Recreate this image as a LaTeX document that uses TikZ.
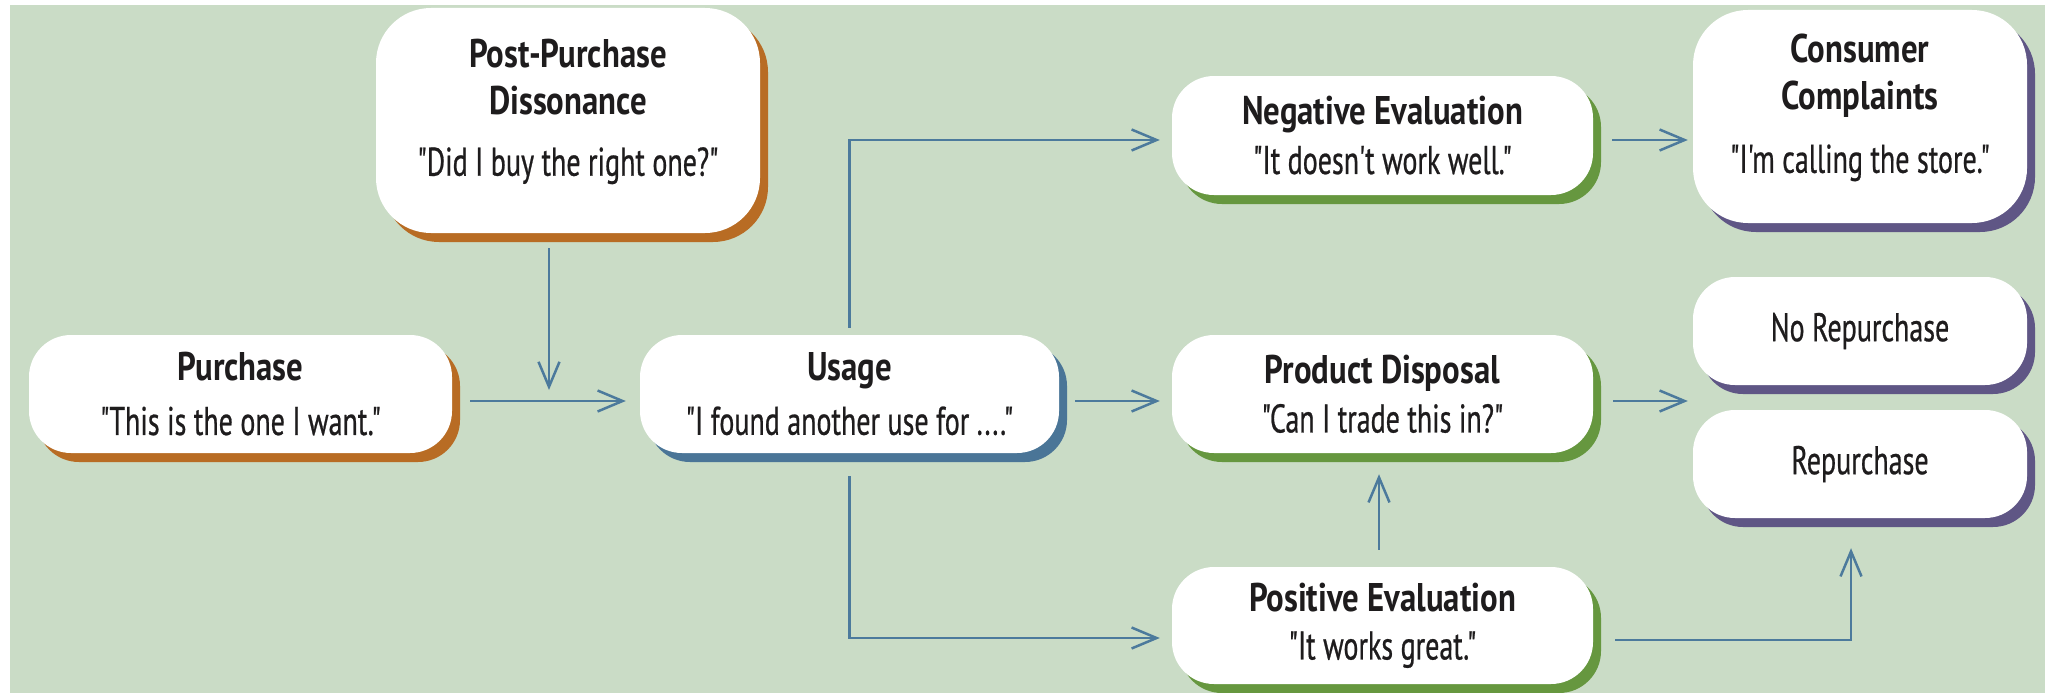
\documentclass[tikz,border=0pt]{standalone}
\usepackage{fontspec}
\setmainfont{PT Sans}[Ligatures=TeXOff, FakeStretch=0.70,
  UprightFeatures={FakeBold=0.6},
  BoldFeatures={FakeStretch=0.82}]
\usetikzlibrary{arrows.meta,shadows,calc}
\definecolor{bgc}{RGB}{202,220,198}
\definecolor{txtc}{RGB}{30,28,29}
\definecolor{arrc}{RGB}{76,122,156}
\definecolor{orangec}{RGB}{184,108,36}
\definecolor{bluec}{RGB}{74,117,151}
\definecolor{greenc}{RGB}{102,151,63}
\definecolor{purplec}{RGB}{95,86,133}
\tikzset{
  box/.style={fill=white, rounded corners=42pt, align=center, text=txtc,
    inner sep=0pt, font=\fontsize{40}{47}\selectfont,
    general shadow={fill=#1, shadow xshift=8pt, shadow yshift=-9pt}},
  tallbox/.style={box=#1, rounded corners=55pt, text depth=26pt},
  arr/.style={draw=arrc, line width=2.5pt,
    -{Straight Barb[length=25pt,width=21pt,line width=2.5pt]}},
}
\begin{document}
\begin{tikzpicture}[x=1pt,y=-1pt]
\useasboundingbox (0,0) rectangle (2055,693);
\fill[bgc] (10,5) rectangle (2045,693);

% stages of the process
\node[tallbox=orangec, minimum width=384pt, minimum height=225pt] (pp) at (568,120.5)
  {\bfseries Post-Purchase\\ \bfseries Dissonance\\[14pt] "Did I buy the right one?"};
\node[box=orangec, minimum width=423pt, minimum height=118pt] (purchase) at (240.5,394)
  {\bfseries Purchase\\[7pt] "This is the one I want."};
\node[box=bluec, minimum width=419pt, minimum height=118pt] (usage) at (849.5,394)
  {\bfseries Usage\\[7pt] "I found another use for ...."};
\node[box=greenc, minimum width=421pt, minimum height=119pt] (neg) at (1382.5,135.5)
  {\bfseries Negative Evaluation\\[2pt] "It doesn't work well."};
\node[box=greenc, minimum width=421pt, minimum height=118pt] (pd) at (1382.5,394)
  {\bfseries Product Disposal\\[2pt] "Can I trade this in?"};
\node[box=greenc, minimum width=421pt, minimum height=117pt] (pos) at (1382.5,625.5)
  {\bfseries Positive Evaluation\\[1pt] "It works great."};
\node[tallbox=purplec, minimum width=334pt, minimum height=213pt] (cc) at (1860,116.5)
  {\bfseries Consumer\\ \bfseries Complaints\\[16pt] "I'm calling the store."};
\node[box=purplec, minimum width=334pt, minimum height=108pt] (nr) at (1860,331)
  {No Repurchase};
\node[box=purplec, minimum width=334pt, minimum height=108pt] (rp) at (1860,464)
  {Repurchase};

% connectors
\coordinate (ppend) at (549,390);
\draw[arr] ([xshift=-19pt,yshift=-15pt]pp.south) -- (ppend);
\draw[arr] ([xshift=18pt,yshift=-7pt]purchase.east) -- ([xshift=-14pt,yshift=-7pt]usage.west);
\draw[arr] ([yshift=7pt]usage.north) |- ([xshift=-12pt,yshift=-4.5pt]neg.west);
\draw[arr] ([xshift=16pt,yshift=-7pt]usage.east) -- ([xshift=-12pt,yshift=-7pt]pd.west);
\draw[arr] ([yshift=-23pt]usage.south) |- ([xshift=-12pt,yshift=-12.5pt]pos.west);
\draw[arr] ([xshift=19pt,yshift=-4.5pt]neg.east) -- ([xshift=-5pt,yshift=-23.5pt]cc.west);
\draw[arr] ([xshift=20pt,yshift=-7pt]pd.east) -- ([xshift=-5pt,yshift=-3.5pt]$(nr.west)!0.5!(rp.west)$);
\draw[arr] ([xshift=-3.5pt,yshift=17pt]pos.north) -- ([xshift=-3.5pt,yshift=-21pt]pd.south);
\draw[arr] ([xshift=22pt,yshift=-14.5pt]pos.east) -| ([xshift=-9pt,yshift=-30pt]rp.south);
\end{tikzpicture}
\end{document}
